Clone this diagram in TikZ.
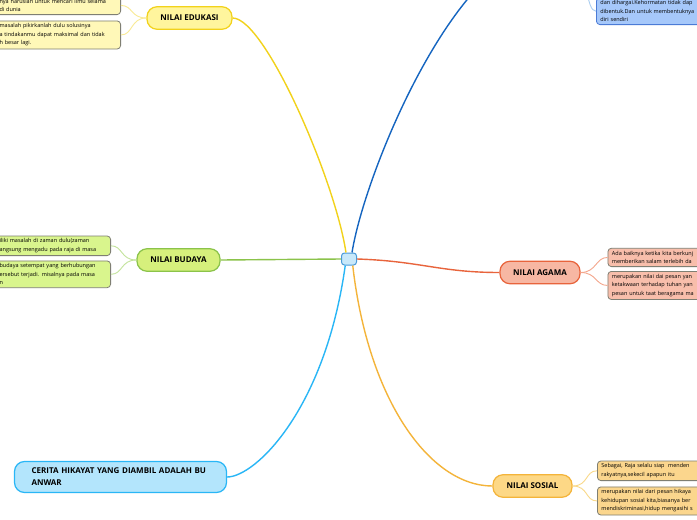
\documentclass[tikz,border=0pt]{standalone}
\usepackage{fontspec}
\setmainfont{Open Sans}
\usetikzlibrary{positioning}
\definecolor{hubFill}{HTML}{C8E8FA}
\definecolor{hubLine}{HTML}{4A9AD8}
\definecolor{eduFill}{HTML}{FFF59D}
\definecolor{eduLine}{HTML}{F2D21B}
\definecolor{eduLeaf}{HTML}{FFF8B8}
\definecolor{eduSub}{HTML}{F9EA94}
\definecolor{budFill}{HTML}{D6F07C}
\definecolor{budLine}{HTML}{8BC34A}
\definecolor{budLeaf}{HTML}{D9F58D}
\definecolor{budSub}{HTML}{C3E39B}
\definecolor{agaFill}{HTML}{F7B7A3}
\definecolor{agaLine}{HTML}{E8643C}
\definecolor{agaLeaf}{HTML}{F8BEAB}
\definecolor{agaSub}{HTML}{F4A68C}
\definecolor{sosFill}{HTML}{FDD886}
\definecolor{sosLine}{HTML}{F4B43A}
\definecolor{sosLeaf}{HTML}{FBD68D}
\definecolor{sosSub}{HTML}{F9D98A}
\definecolor{cerFill}{HTML}{B3E5FC}
\definecolor{cerLine}{HTML}{29B6F6}
\definecolor{topLine}{HTML}{1565C0}
\definecolor{topLeaf}{HTML}{A6C8FA}
\definecolor{topBorder}{HTML}{4B7BD6}
\definecolor{topSub}{HTML}{A9CDF0}
\definecolor{leafline}{HTML}{7F7F73}

\begin{document}
\begin{tikzpicture}[
    x=1pt, y=-1pt,
    hub/.style={draw=hubLine, fill=hubFill, line width=1pt, rounded corners=3pt,
                minimum width=15pt, minimum height=12pt, inner sep=0pt},
    topic/.style={draw, line width=1.2pt, rounded corners=10pt, minimum height=22.5pt,
                  inner xsep=8pt, font=\bfseries\fontsize{8}{12}\selectfont},
    leaf/.style={draw=leafline, line width=0.8pt, rounded corners=3.5pt, align=left,
                 inner xsep=4pt, inner ysep=2.8pt, font=\fontsize{5.5}{8.5}\selectfont},
    link/.style={line width=1.4pt},
    sublink/.style={line width=0.9pt}
]
\useasboundingbox (0,0) rectangle (697,520);
\clip (0,0) rectangle (697,520);
\fill[white] (0,0) rectangle (697,520);

% main topics
\node[hub] (ctr) at (349,259) {};
\node[topic, fill=eduFill, draw=eduLine, minimum width=85pt] (edu) at (189.5,18) {NILAI EDUKASI};
\node[topic, fill=budFill, draw=budLine, minimum width=83pt] (bud) at (178.5,260) {NILAI BUDAYA};
\node[topic, fill=agaFill, draw=agaLine, minimum width=80pt] (aga) at (540,272.5) {NILAI AGAMA};
\node[topic, fill=sosFill, draw=sosLine, minimum width=79pt] (sos) at (532.5,486) {NILAI SOSIAL};
\node[topic, fill=cerFill, draw=cerLine, minimum height=31pt, inner xsep=17pt,
      text width=178pt, align=left] (cer) at (120.5,477) {CERITA HIKAYAT YANG DIAMBIL ADALAH BU\\ANWAR};
\coordinate (topnode) at (490,-25);
\coordinate (topsrc)  at (578,-26);

% leaves
\node[leaf, fill=eduLeaf, anchor=south east, text width=117pt] (edu1) at (121,15)
    {nya haruslah untuk mencari ilmu selama\\di dunia};
\node[leaf, fill=eduLeaf, anchor=north east, text width=117pt] (edu2) at (121,20.5)
    {masalah pikirkanlah dulu solusinya\\a tindakanmu dapat maksimal dan tidak\\h besar lagi.};
\node[leaf, fill=budLeaf, anchor=south east, text width=107pt] (bud1) at (111,256)
    {iliki masalah di zaman dulu(zaman\\angsung mengadu pada raja di masa};
\node[leaf, fill=budLeaf, anchor=north east, text width=107pt] (bud2) at (111,260.5)
    {budaya setempat yang berhubungan\\ersebut terjadi. misalnya pada masa\\n};
\node[leaf, fill=agaLeaf, anchor=south west, text width=110pt] (aga1) at (607.5,267)
    {Ada baiknya ketika kita berkunj\\memberikan salam terlebih da};
\node[leaf, fill=agaLeaf, anchor=north west, text width=110pt] (aga2) at (607.5,271)
    {merupakan nilai dai pesan yan\\ketakwaan terhadap tuhan yan\\pesan untuk taat beragama ma};
\node[leaf, fill=sosLeaf, anchor=south west, text width=110pt] (sos1) at (597,481)
    {Sebagai, Raja selalu siap\ \ menden\\rakyatnya,sekecil apapun itu};
\node[leaf, fill=sosLeaf, anchor=north west, text width=110pt] (sos2) at (597,486.5)
    {merupakan nilai dari pesan hikaya\\kehidupan sosial kita,biasanya ber\\mendiskriminasi,hidup mengasihi s};
\node[leaf, fill=topLeaf, draw=topBorder, anchor=south west, text width=110pt] (top1) at (596,25)
    {dan dihargai.Kehormatan tidak dap\\dibentuk.Dan untuk membentuknya\\diri sendiri};

% connectors from the centre
\draw[link, eduLine] (ctr.115) .. controls (335,180) and (265,18) .. (edu.east);
\draw[link, topLine] (ctr.65) .. controls (362,190) and (420,40) .. (topnode);
\draw[link, budLine] (ctr.west) -- (bud.east);
\draw[link, agaLine] (ctr.east) .. controls (420,261) and (440,272.5) .. (aga.west);
\draw[link, sosLine] (ctr.-60) .. controls (368,400) and (430,486) .. (sos.west);
\draw[link, cerLine] (ctr.-120) .. controls (325,410) and (255,477) .. (cer.east);

% connectors to the leaves
\draw[sublink, eduSub] (edu.west) .. controls +(-16,0) and +(12,0) .. (edu1.east);
\draw[sublink, eduSub] (edu.west) .. controls +(-16,0) and +(12,0) .. (edu2.east);
\draw[sublink, budSub] (bud.west) .. controls +(-16,0) and +(12,0) .. (bud1.east);
\draw[sublink, budSub] (bud.west) .. controls +(-16,0) and +(12,0) .. (bud2.east);
\draw[sublink, agaSub] (aga.east) .. controls +(16,0) and +(-12,0) .. (aga1.west);
\draw[sublink, agaSub] (aga.east) .. controls +(16,0) and +(-12,0) .. (aga2.west);
\draw[sublink, sosSub] (sos.east) .. controls +(16,0) and +(-12,0) .. (sos1.west);
\draw[sublink, sosSub] (sos.east) .. controls +(16,0) and +(-12,0) .. (sos2.west);
\draw[sublink, topSub] (topsrc) .. controls +(10,0) and +(-10,0) .. (top1.west);
\end{tikzpicture}
\end{document}
